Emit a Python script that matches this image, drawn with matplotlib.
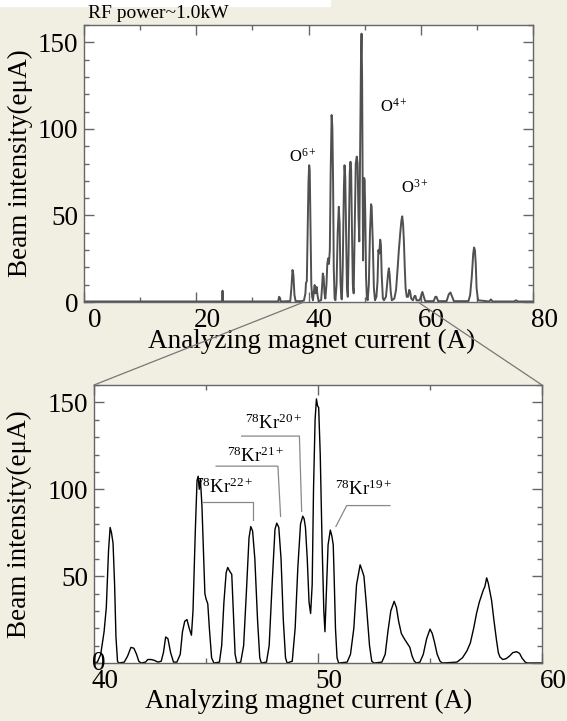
import numpy as np
import matplotlib.pyplot as plt
import matplotlib.transforms as mtransforms
from matplotlib.patches import ConnectionPatch, Rectangle
from matplotlib.ticker import MultipleLocator, FuncFormatter

plt.rcParams['font.family'] = ['Liberation Serif', 'DejaVu Serif']
plt.rcParams['mathtext.fontset'] = 'custom'
plt.rcParams['mathtext.rm'] = 'Liberation Serif'
plt.rcParams['mathtext.it'] = 'Liberation Serif:italic'

# full scan, RF power ~1.0 kW: (current A, intensity euA)
full_scan = [
    (0, 0.3), (24.6, 0.3), (24.68, 6.5), (24.76, 0.3), (34.6, 0.3), (34.75, 3), (34.9, 2.5),
    (35.05, 0.3), (36.75, 0.5), (36.95, 8), (37.15, 18.5), (37.3, 16), (37.5, 4), (37.7, 0.5),
    (38.9, 0.5), (39.2, 1), (39.45, 5), (39.55, 11), (39.7, 12), (39.85, 40), (40.0, 70),
    (40.12, 79), (40.22, 76), (40.35, 45), (40.5, 10), (40.65, 3), (40.8, 1), (40.95, 6),
    (41.1, 9.8), (41.25, 5), (41.45, 8.7), (41.6, 4), (41.8, 0.5), (42.25, 1), (42.4, 8),
    (42.55, 16.5), (42.7, 14.5), (42.85, 5), (43.0, 2), (43.2, 10), (43.35, 22), (43.5, 25.2),
    (43.65, 22), (43.8, 30), (43.95, 75), (44.12, 108), (44.25, 101), (44.38, 70), (44.5, 20),
    (44.65, 2), (44.8, 1), (45.0, 10), (45.2, 40), (45.4, 55), (45.55, 45), (45.7, 12),
    (45.85, 2), (45.95, 1.5), (46.1, 20), (46.3, 65), (46.42, 79), (46.55, 72), (46.7, 40),
    (46.85, 8), (47.0, 3), (47.15, 30), (47.35, 75), (47.48, 81), (47.6, 76), (47.75, 40),
    (47.9, 10), (48.05, 5), (48.2, 35), (48.42, 80), (48.6, 84), (48.75, 80), (48.9, 50),
    (49.05, 35), (49.2, 90), (49.35, 140), (49.45, 155), (49.55, 130), (49.65, 60), (49.72, 24),
    (49.8, 45), (49.92, 71.6), (50.0, 70), (50.12, 50), (50.25, 15), (50.4, 2), (50.55, 1),
    (50.75, 10), (50.95, 40), (51.15, 56.5), (51.25, 55), (51.45, 35), (51.65, 8), (51.85, 1),
    (52.1, 3), (52.3, 12), (52.45, 30), (52.6, 28), (52.78, 36), (52.9, 33), (53.05, 15),
    (53.25, 2), (53.45, 1), (53.8, 3), (54.0, 10), (54.2, 17), (54.32, 19.5), (54.45, 16),
    (54.65, 6), (54.85, 1), (55.3, 2), (55.6, 7), (55.85, 18), (56.1, 30), (56.35, 40),
    (56.55, 47), (56.7, 49.5), (56.85, 45), (57.0, 35), (57.15, 20), (57.3, 8), (57.5, 3),
    (57.75, 3), (57.95, 7), (58.1, 6), (58.3, 2), (58.6, 1), (58.9, 3.5), (59.05, 3.5),
    (59.25, 1), (59.8, 1), (60.1, 4), (60.3, 5.8), (60.55, 3), (60.8, 0.5), (62.3, 0.5),
    (62.6, 3), (62.8, 3), (63.1, 0.5), (64.6, 0.5), (65.0, 4.5), (65.3, 5.5), (65.6, 3),
    (65.9, 0.5), (68.5, 0.5), (68.8, 4), (69.1, 15), (69.35, 28), (69.5, 31.5), (69.65, 30),
    (69.8, 22), (69.95, 8), (70.2, 1), (72.2, 0.3), (72.5, 1.5), (72.8, 0.3), (76.6, 0.3),
    (77.0, 1), (77.3, 0.3), (80, 0.3),
]

# zoomed scan 40-60 A
zoom_scan = [
    (40.0, 0), (40.15, 0.5), (40.3, 5), (40.45, 18), (40.55, 32), (40.65, 65), (40.72, 78),
    (40.78, 75), (40.85, 69), (40.92, 45), (40.98, 15), (41.05, 1), (41.1, 0),
    (41.35, 0.5), (41.5, 4), (41.65, 9), (41.78, 8.5), (41.9, 5), (42.0, 1), (42.1, 0),
    (42.3, 0.5), (42.4, 2), (42.55, 2), (42.7, 1.5), (42.85, 0.5), (43.0, 1), (43.1, 6),
    (43.2, 15), (43.3, 14), (43.42, 6), (43.55, 0.5), (43.7, 0.5),
    (43.85, 5), (43.95, 18), (44.05, 24), (44.15, 25), (44.25, 20), (44.35, 16), (44.42, 30),
    (44.52, 75), (44.6, 105), (44.65, 107.5), (44.7, 100), (44.75, 106), (44.82, 90),
    (44.9, 60), (44.95, 40), (45.0, 37), (45.08, 34), (45.15, 20), (45.25, 3), (45.35, 0),
    (45.6, 0.5), (45.7, 10), (45.8, 35), (45.9, 52), (45.97, 55), (46.05, 53), (46.15, 51),
    (46.22, 30), (46.3, 5), (46.38, 0),
    (46.55, 0.5), (46.68, 10), (46.8, 40), (46.92, 72), (47.0, 78.5), (47.08, 76), (47.18, 60),
    (47.3, 25), (47.4, 3), (47.47, 0),
    (47.7, 0.5), (47.82, 10), (47.95, 45), (48.08, 77), (48.16, 80.5), (48.25, 78), (48.35, 60),
    (48.45, 25), (48.55, 3), (48.62, 0),
    (48.85, 1), (48.98, 20), (49.1, 55), (49.22, 80), (49.32, 84.5), (49.38, 83), (49.44, 78),
    (49.52, 60), (49.6, 35), (49.67, 28.5), (49.74, 45), (49.8, 100), (49.87, 140),
    (49.93, 152), (49.98, 148), (50.03, 147), (50.1, 120), (50.18, 70), (50.26, 30),
    (50.31, 18), (50.37, 40), (50.45, 68), (50.55, 76.5), (50.62, 73), (50.68, 68),
    (50.72, 50), (50.78, 20), (50.85, 3), (50.92, 0),
    (51.3, 0.5), (51.45, 5), (51.6, 20), (51.72, 45), (51.88, 56.5), (51.95, 54), (52.05, 50),
    (52.15, 35), (52.3, 10), (52.4, 1), (52.5, 0),
    (52.85, 0.5), (53.0, 5), (53.12, 18), (53.25, 30), (53.4, 35.5), (53.5, 32), (53.6, 24),
    (53.72, 17), (53.85, 14), (54.0, 11), (54.1, 9), (54.2, 4), (54.3, 1), (54.4, 0),
    (54.55, 0.5), (54.7, 5), (54.85, 14), (55.0, 19.5), (55.1, 17), (55.2, 12), (55.32, 5),
    (55.45, 1), (55.55, 0),
    (56.2, 0.5), (56.45, 3), (56.65, 7), (56.8, 11.5), (56.95, 20), (57.08, 28.7), (57.2, 35),
    (57.3, 39), (57.38, 42), (57.45, 44), (57.53, 49), (57.6, 46), (57.75, 36), (57.85, 25),
    (57.97, 13), (58.05, 6), (58.12, 3.5), (58.25, 2), (58.4, 2.5), (58.55, 4), (58.7, 6),
    (58.87, 6.5), (59.0, 5.5), (59.1, 3), (59.25, 0.5), (59.35, 0), (60.0, 0),
]

oxygen_labels = ['O$^{6+}$', 'O$^{4+}$', 'O$^{3+}$']
krypton_labels = [r'$^{78}$Kr$^{22+}$', r'$^{78}$Kr$^{21+}$',
                  r'$^{78}$Kr$^{20+}$', r'$^{78}$Kr$^{19+}$']

# label placement (data coords)
oxygen_pos = [(39.0, 83.8), (55.2, 112.7), (59.0, 65.9)]
krypton_pos = [(45.85, 98.1), (47.23, 115.4), (48.04, 134.4), (52.03, 96.9)]
krypton_leaders = [
    [(44.87, 92.9), (47.1, 92.9), (47.1, 82.5)],
    [(45.45, 113.3), (48.21, 113.3), (48.33, 84.4)],
    [(46.59, 130.6), (49.17, 130.6), (49.27, 87.3)],
    [(53.21, 90.6), (51.28, 90.6), (50.8, 78.6)],
]

BG = '#f1eee2'
FRAME = '#666666'
FS = 19.5

fig = plt.figure(figsize=(5.67, 7.21), dpi=100, facecolor=BG)
fig.patches.append(Rectangle((0, 1 - 6 / 721), 330 / 567, 6 / 721,
                             transform=fig.transFigure, color='white', zorder=0))

ax1 = fig.add_axes([84 / 567, 1 - 302 / 721, 449 / 567, 277 / 721])
ax2 = fig.add_axes([94 / 567, 1 - 663 / 721, 448 / 567, 278 / 721])

full = np.array(full_scan)
zoom = np.array(zoom_scan)
ax1.plot(full[:, 0], full[:, 1], color='#505050', lw=1.4)
ax2.plot(zoom[:, 0], zoom[:, 1], color='black', lw=1.0)

ax1.set_xlim(0, 80)
ax2.set_xlim(40, 60)
for ax in (ax1, ax2):
    ax.set_ylim(0, 160)
    ax.set_facecolor('white')
    for s in ax.spines.values():
        s.set_color(FRAME)
        s.set_linewidth(1.0)
    ax.yaxis.set_major_locator(MultipleLocator(50))
    ax.yaxis.set_minor_locator(MultipleLocator(10))
    ax.tick_params(which='both', direction='in', top=True, right=True,
                   color=FRAME, width=1.0, labelsize=FS, pad=4)
    ax.tick_params(which='major', length=7)
    ax.tick_params(which='minor', length=3.5)
    ax.set_xlabel('Analyzing magnet current (A)', fontsize=FS)
    ax.set_ylabel('Beam intensity(e\u03bcA)', fontsize=FS)
    ax.xaxis.label.set_va('center')
    ax.yaxis.label.set_va('center')

ax1.set_xticks([0, 20, 40, 60, 80])
ax1.xaxis.set_minor_locator(MultipleLocator(10))
ax2.set_xticks([40, 50, 60])
ax2.xaxis.set_minor_locator(MultipleLocator(5))
ax1.set_yticks([0, 50, 100, 150])
ax2.set_yticks([0, 50, 100, 150])
ax2.yaxis.set_major_formatter(FuncFormatter(lambda v, p: '' if v == 0 else f'{v:.0f}'))
ax2.text(0.01, 0, '0', transform=ax2.transAxes, fontsize=FS, ha='center', va='center')

shift = mtransforms.ScaledTranslation(11 / 100, 0, fig.dpi_scale_trans)
for ax in (ax1, ax2):
    for lab in ax.get_xticklabels():
        lab.set_transform(lab.get_transform() + shift)

ax1.xaxis.set_label_coords(0.508, -0.142)
ax2.xaxis.set_label_coords(0.48, -0.137)
ax1.yaxis.set_label_coords(-0.1425, 0.5)
ax2.yaxis.set_label_coords(-0.167, 0.5)

fig.text(88 / 567, 1 - 13 / 721, 'RF power~1.0kW', fontsize=14, ha='left', va='center')

for txt, (x, y) in zip(oxygen_labels, oxygen_pos):
    ax1.text(x, y, txt, fontsize=12, ha='center', va='center')

for txt, (x, y), path in zip(krypton_labels, krypton_pos, krypton_leaders):
    ax2.text(x, y, txt, fontsize=13.5, ha='center', va='baseline')
    p = np.array(path)
    ax2.plot(p[:, 0], p[:, 1], color='#888888', lw=0.9)

for xa, xb in ((39.2, 0.0), (59.5, 1.0)):
    con = ConnectionPatch(xyA=(xa, 0), coordsA=ax1.transData,
                          xyB=(xb, 1.0), coordsB=ax2.transAxes,
                          color='#777777', lw=0.9)
    fig.add_artist(con)

fig.savefig('out.png', dpi=100, facecolor=BG)
